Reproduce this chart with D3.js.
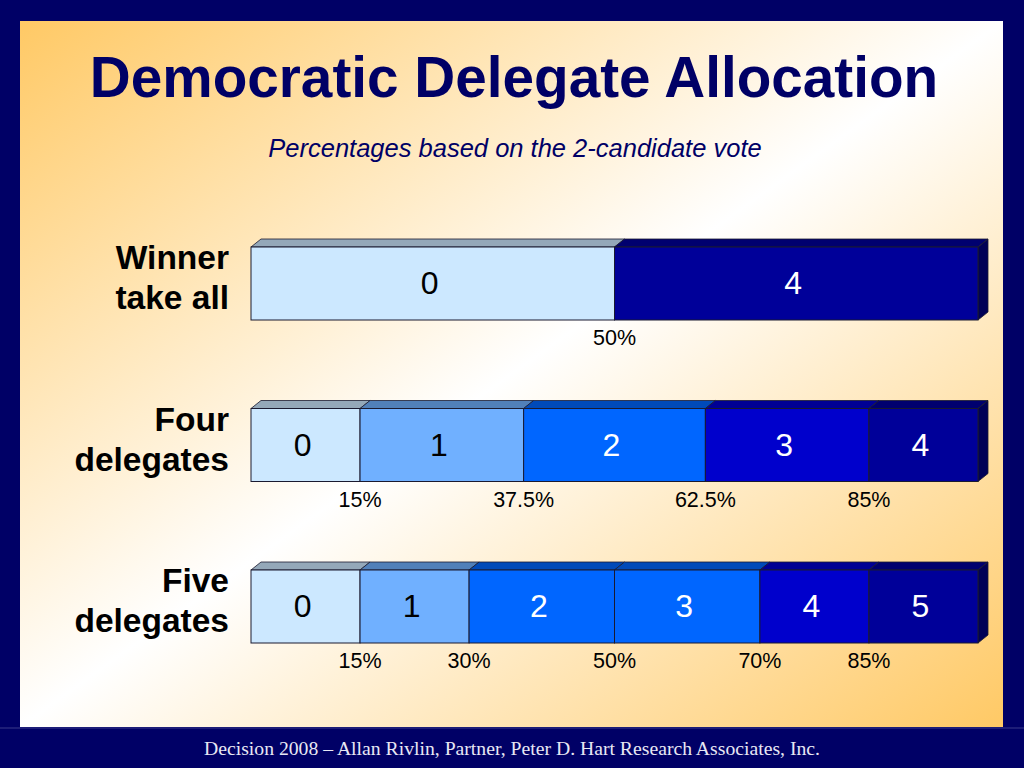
<!DOCTYPE html>
<html><head><meta charset="utf-8">
<script src="https://cdn.jsdelivr.net/npm/d3@7"></script>
<style>html,body{margin:0;padding:0;background:#000066;}svg{display:block;}</style>
</head><body>
<svg id="chart" width="1024" height="768"></svg>
<script>
// ---- data ----
const title = "Democratic Delegate Allocation";
const subtitle = "Percentages based on the 2-candidate vote";
const footer = "Decision 2008 \u2013 Allan Rivlin, Partner, Peter D. Hart Research Associates, Inc.";
const rowIds = ["winner", "four", "five"];
const rowLabels = [["Winner", "take all"], ["Four", "delegates"], ["Five", "delegates"]];
const cutoffs = [[50], [15, 37.5, 62.5, 85], [15, 30, 50, 70, 85]];
const cutoffLabels = [["50%"], ["15%", "37.5%", "62.5%", "85%"], ["15%", "30%", "50%", "70%", "85%"]];
const segmentLabels = [["0", "4"], ["0", "1", "2", "3", "4"], ["0", "1", "2", "3", "4", "5"]];
const segmentTiers = [[0, 4], [0, 1, 2, 3, 4], [0, 1, 2, 2, 3, 4]];
const tierColors = ["#CCE8FF", "#70B0FF", "#0066FF", "#0000CC", "#000099"];
const tierText = ["#000", "#000", "#fff", "#fff", "#fff"];

// ---- drawing ----
const svg = d3.select("#chart");
const defs = svg.append("defs");
const grad = defs.append("linearGradient").attr("id", "bg")
  .attr("x1", 0).attr("y1", 0).attr("x2", 1).attr("y2", 1);
grad.append("stop").attr("offset", 0).attr("stop-color", "#FFC965");
grad.append("stop").attr("offset", 0.5).attr("stop-color", "#FFFFFF");
grad.append("stop").attr("offset", 1).attr("stop-color", "#FFC965");

svg.append("rect").attr("width", 1024).attr("height", 768).attr("fill", "#000066");
svg.append("rect").attr("x", 20).attr("y", 21).attr("width", 983).attr("height", 706).attr("fill", "url(#bg)");
svg.append("line").attr("x1", 0).attr("x2", 1024).attr("y1", 728).attr("y2", 728)
  .attr("stroke", "#3a3a8a").attr("stroke-width", 1);

svg.append("text").attr("x", 514).attr("y", 97).attr("text-anchor", "middle")
  .attr("font-family", "Liberation Sans, Arial, sans-serif").attr("font-weight", "bold")
  .attr("font-size", 56.7).attr("fill", "#000066").text(title);
svg.append("text").attr("x", 515).attr("y", 157).attr("text-anchor", "middle")
  .attr("font-family", "Liberation Sans, Arial, sans-serif").attr("font-style", "italic")
  .attr("font-size", 25.5).attr("fill", "#000066").text(subtitle);
svg.append("text").attr("x", 512).attr("y", 755).attr("text-anchor", "middle")
  .attr("font-family", "Liberation Serif, Times New Roman, serif")
  .attr("font-size", 19.7).attr("fill", "#E8E8F4").text(footer);

const x = d3.scaleLinear().domain([0, 100]).range([251, 978]);
const y = d3.scaleBand().domain(rowIds).range([247, 731.5]);
const barH = 73, dx = 10, dy = 8;

rowIds.forEach((id, r) => {
  const top = y(id), bot = top + barH;
  const edges = [0, ...cutoffs[r], 100];
  const segs = segmentLabels[r].map((lab, i) => ({
    x0: edges[i], x1: edges[i + 1], label: lab, tier: segmentTiers[r][i]
  }));
  const g = svg.append("g");

  // top faces
  g.selectAll("path.top").data(segs).join("path").attr("class", "top")
    .attr("d", d => `M${x(d.x0)},${top}L${x(d.x0) + dx},${top - dy}L${x(d.x1) + dx},${top - dy}L${x(d.x1)},${top}Z`)
    .attr("fill", d => d3.color(tierColors[d.tier]).darker(0.9))
    .attr("stroke", "#1a1a30").attr("stroke-width", 0.8);
  // right side face
  const last = segs[segs.length - 1];
  g.append("path")
    .attr("d", `M${x(100)},${top}L${x(100) + dx},${top - dy}L${x(100) + dx},${bot - dy}L${x(100)},${bot}Z`)
    .attr("fill", d3.color(tierColors[last.tier]).darker(1.6))
    .attr("stroke", "#1a1a30").attr("stroke-width", 0.8);
  // front faces
  g.selectAll("rect.front").data(segs).join("rect").attr("class", "front")
    .attr("x", d => x(d.x0)).attr("y", top)
    .attr("width", d => x(d.x1) - x(d.x0)).attr("height", barH)
    .attr("fill", d => tierColors[d.tier])
    .attr("stroke", "#1a1a30").attr("stroke-width", 1);
  // segment labels
  g.selectAll("text.seg").data(segs).join("text").attr("class", "seg")
    .attr("x", d => (x(d.x0) + x(d.x1)) / 2 - 3).attr("y", top + 47)
    .attr("text-anchor", "middle")
    .attr("font-family", "Liberation Sans, Arial, sans-serif").attr("font-size", 32)
    .attr("fill", d => tierText[d.tier]).text(d => d.label);
  // cutoff labels
  g.selectAll("text.cut").data(cutoffs[r]).join("text").attr("class", "cut")
    .attr("x", d => x(d)).attr("y", bot + 25).attr("text-anchor", "middle")
    .attr("font-family", "Liberation Sans, Arial, sans-serif").attr("font-size", 21.5)
    .attr("fill", "#000").text((d, i) => cutoffLabels[r][i]);
  // row labels
  g.selectAll("text.row").data(rowLabels[r]).join("text").attr("class", "row")
    .attr("x", 229).attr("y", (d, i) => top + 22 + i * 40).attr("text-anchor", "end")
    .attr("font-family", "Liberation Sans, Arial, sans-serif").attr("font-weight", "bold")
    .attr("font-size", 33.5).attr("fill", "#000").text(d => d);
});
</script>
</body></html>
